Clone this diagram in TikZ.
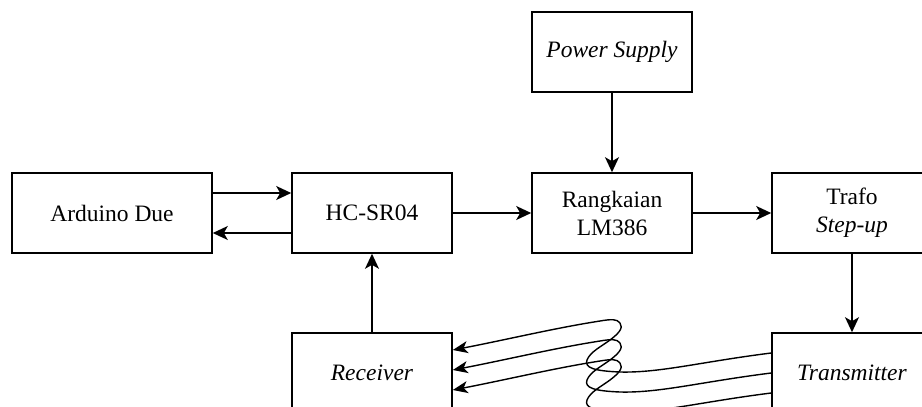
\documentclass[tikz,border=0pt]{standalone}
\usepackage{fontspec}
\setmainfont{Liberation Serif}
\usetikzlibrary{arrows.meta}

\begin{document}
\begin{tikzpicture}[x=1pt,y=-1pt,
  blok/.style={draw,line width=1.6pt,minimum width=160pt,minimum height=80pt,align=center,font=\fontsize{23.5}{28}\selectfont},
  panah/.style={line width=1.6pt,-{Stealth[length=15pt,width=14pt,inset=4pt]}},
  gelombang/.style={line width=1.4pt,-{Stealth[length=15pt,width=12pt,inset=4pt]}}]

\useasboundingbox (0,0) rectangle (922,407);
\clip (0,0) rectangle (922,407);

%Atas
\node (power) at (612,52) [blok] {\textit{Power Supply}};

%Tengah
\node (arduino) at (112,213) [blok,minimum width=200pt] {Arduino Due};
\node (hcsr)    at (372,213) [blok] {HC-SR04};
\node (lm)      at (612,213) [blok] {Rangkaian\\LM386};
\node (trafo)   at (852,213) [blok] {Trafo\\\textit{Step-up}};

%Bawah
\node (rx) at (372,373) [blok] {\textit{Receiver}};
\node (tx) at (852,373) [blok] {\textit{Transmitter}};

\draw[panah] ([yshift=20pt]arduino.east) -- ([yshift=20pt]hcsr.west);
\draw[panah] ([yshift=-20pt]hcsr.west) -- ([yshift=-20pt]arduino.east);
\draw[panah] (hcsr) -- (lm);
\draw[panah] (lm) -- (trafo);
\draw[panah] (power) -- (lm);
\draw[panah] (trafo) -- (tx);
\draw[panah] (rx) -- (hcsr);

%dari Transmitter ke Receiver
\foreach \d/\s/\r in {0/20/23, 20/0/3, 40/-20/-17} {
  \draw[gelombang] ([yshift=\s pt]tx.west) .. controls (700,{362+\d}) and (660,{373+\d}) .. (620,{372+\d})
    .. controls (595,{371+\d}) and (584,{368+\d}) .. (587,{360+\d})
    .. controls (590,{352+\d}) and (602,{346+\d}) .. (610,{340+\d})
    .. controls (618,{334+\d}) and (624,{328+\d}) .. (620,{323+\d})
    .. controls (617,{319+\d}) and (612,{319+\d}) .. (600,{321+\d})
    .. controls (555,{328+\d}) and (505,{340+\d}) .. ([yshift=\r pt]rx.east);
}

\end{tikzpicture}
\end{document}
